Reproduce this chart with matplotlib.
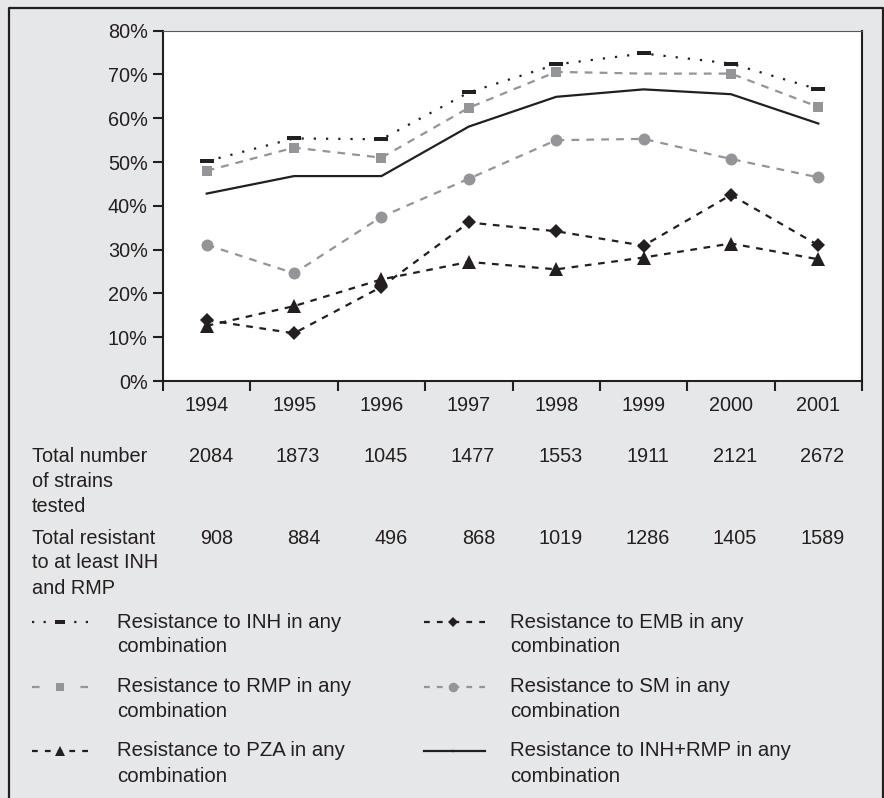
import matplotlib
matplotlib.use("Agg")
import matplotlib.pyplot as plt
from matplotlib.path import Path
from matplotlib.transforms import blended_transform_factory

plt.rcParams['font.family'] = ['Liberation Sans', 'DejaVu Sans']

# data (percent of strains)
years = ['1994', '1995', '1996', '1997', '1998', '1999', '2000', '2001']
inh = [50.2, 55.4, 55.2, 65.9, 72.3, 74.8, 72.5, 66.6]
rmp = [48.0, 53.3, 51.0, 62.4, 70.6, 70.2, 70.2, 62.6]
inh_rmp = [42.8, 46.8, 46.8, 58.1, 64.9, 66.6, 65.5, 58.8]
sm = [31.1, 24.6, 37.5, 46.2, 55.0, 55.3, 50.7, 46.5]
emb = [13.9, 10.9, 21.5, 36.2, 34.2, 30.9, 42.5, 31.0]
pza = [12.6, 17.1, 23.2, 27.2, 25.5, 28.2, 31.4, 27.8]

total_tested = [2084, 1873, 1045, 1477, 1553, 1911, 2121, 2672]
total_resistant = [908, 884, 496, 868, 1019, 1286, 1405, 1589]
row_labels = [['Total number', 'of strains', 'tested'],
              ['Total resistant', 'to at least INH', 'and RMP']]

legend_labels = ['Resistance to INH in any', 'Resistance to EMB in any',
                 'Resistance to RMP in any', 'Resistance to SM in any',
                 'Resistance to PZA in any', 'Resistance to INH+RMP in any']

y_ticks = [0, 10, 20, 30, 40, 50, 60, 70, 80]

BG = '#e6e7e8'
BLACK = '#231f20'
GRAY = '#939598'
FS = 14.3
FS_LEG = 14.7

# flat bar marker used for INH
bar = Path([(-1, -0.36), (1, -0.36), (1, 0.36), (-1, 0.36), (-1, -0.36)],
           [Path.MOVETO, Path.LINETO, Path.LINETO, Path.LINETO, Path.CLOSEPOLY])

dotted = (0, (1, 4.5))
gdash = (0, (3.5, 3.2))
bdash = (0, (3, 3))

# style per series, plus the dash pattern of its legend sample
styles = [
    dict(data=inh, ls=dotted, color=BLACK, marker=bar, ms=9.4, every=None,
         leg=(0, (1, 4.2))),
    dict(data=emb, ls=bdash, color=BLACK, marker='D', ms=6.8, every=None,
         leg=(0, (2.6, 3.2))),
    dict(data=rmp, ls=gdash, color=GRAY, marker='s', ms=7.0, every=[0, 1, 2, 3, 4, 6, 7],
         leg=(0, (3.4, 20))),
    dict(data=sm, ls=gdash, color=GRAY, marker='o', ms=8.6, every=None,
         leg=(0, (2.6, 3.2))),
    dict(data=pza, ls=bdash, color=BLACK, marker='^', ms=9.4, every=None,
         leg=(0, (2.6, 3.2))),
    dict(data=inh_rmp, ls='-', color=BLACK, marker=None, ms=0, every=None,
         leg='-'),
]

fig = plt.figure(figsize=(8.84, 7.98), dpi=100, facecolor=BG)
ax = fig.add_axes([163 / 884, 1 - 381 / 798, (862 - 163) / 884, (381 - 30.7) / 798])
ax.set_facecolor('white')

x = list(range(len(years)))
for st in reversed(styles):
    ax.plot(x, st['data'], linestyle=st['ls'], color=st['color'], lw=1.6,
            marker=st['marker'], markersize=st['ms'], markevery=st['every'],
            markeredgewidth=0, dash_capstyle='butt')

ax.set_xlim(-0.5, len(years) - 0.5)
ax.set_ylim(0, 80)
ax.set_yticks(y_ticks)
ax.set_yticklabels([f'{v}%' for v in y_ticks])
ax.set_xticks(x)
ax.set_xticklabels(years)
ax.set_xticks([i - 0.5 for i in range(len(years) + 1)], minor=True)
ax.tick_params(axis='x', which='major', length=0, pad=11, labelsize=FS, labelcolor=BLACK)
ax.tick_params(axis='x', which='minor', length=7, width=1.5, color=BLACK)
ax.tick_params(axis='y', length=7, width=1.5, color=BLACK, pad=4, labelsize=FS,
               labelcolor=BLACK)
for side in ['left', 'bottom', 'right']:
    ax.spines[side].set_linewidth(1.5)
    ax.spines[side].set_color(BLACK)
ax.spines['top'].set_linewidth(0.8)
ax.spines['top'].set_color('#58595b')

# overlay in pixel coordinates for frame, table and legend
lax = fig.add_axes([0, 0, 1, 1])
lax.set_xlim(0, 884)
lax.set_ylim(798, 0)
lax.axis('off')
lax.patch.set_alpha(0)

lax.plot([9, 9, 882.5, 882.5], [800, 8, 8, 800], color=BLACK, lw=1.6, clip_on=False)

# table below the axis
tr = blended_transform_factory(ax.transData, lax.transData)
row_y = [456.5, 538]
for r, (labels, vals) in enumerate(zip(row_labels, [total_tested, total_resistant])):
    for k, t in enumerate(labels):
        lax.text(32, row_y[r] + 25 * k, t, fontsize=FS, color=BLACK, ha='left', va='center')
    for i, v in enumerate(vals):
        lax.text(i + 0.3, row_y[r], str(v), transform=tr, fontsize=FS, color=BLACK,
                 ha='right', va='center')

# legend, two columns; each sample drawn from both ends towards its marker
col_x = [(32, 88, 60, 117), (424, 485, 453, 510)]
leg_y = [622, 686.5, 751]
for n, (st, lab) in enumerate(zip(styles, legend_labels)):
    x0, x1, xm, xt = col_x[n % 2]
    y = leg_y[n // 2]
    for xs in ([x0, xm], [x1, xm]):
        lax.plot(xs, [y, y], linestyle=st['leg'], color=st['color'], lw=1.6,
                 dash_capstyle='butt')
    if st['marker'] is not None:
        lax.plot([xm], [y], marker=st['marker'], markersize=st['ms'] * 0.8,
                 color=st['color'], markeredgewidth=0, linestyle='none')
    lax.text(xt, y, lab, fontsize=FS_LEG, color=BLACK, ha='left', va='center')
    lax.text(xt, y + 25, 'combination', fontsize=FS_LEG, color=BLACK, ha='left', va='center')

fig.savefig('out.png', dpi=100, facecolor=BG)
